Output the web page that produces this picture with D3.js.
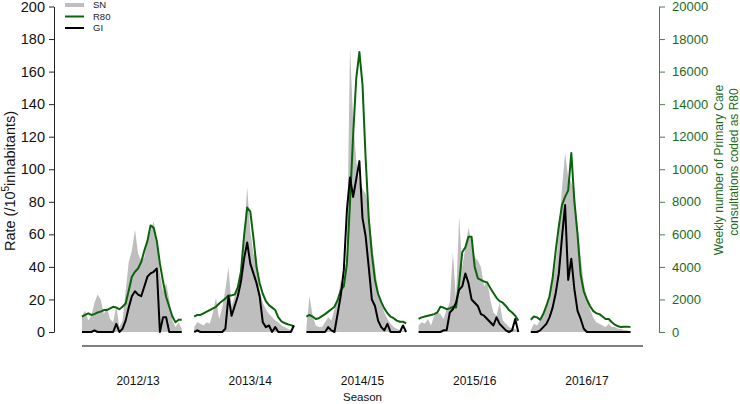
<!DOCTYPE html>
<html lang="en">
<head>
  <meta charset="UTF-8">
  <title>SN, R80 and GI by season</title>
  <script src="https://d3js.org/d3.v7.min.js"></script>
  <style>
    body { margin: 0; background: #fff; }
    text { font-family: "Liberation Sans", Arial, sans-serif; }
  </style>
</head>
<body>

<div id="chart"></div>

<script>
  // seasons (33 weeks each)
  const seasons = ["2012/13", "2013/14", "2014/15", "2015/16", "2016/17"];

  // SN rate per 10^5 inhabitants
  const snRate = [
    [10,13,7,10,18,23,20,11,15,8,6,16,3,7,25,43,50,63,48,44,46,56,62,68,56,36,25,30,20,7,3,6,2],
    [3,6,5,4,6,5,12,21,8,15,26,40,16,22,28,38,60,89,62,48,46,26,18,14,11,9,7,6,4,3,2,1,0],
    [3,22,10,4,3,3,6,9,7,14,18,32,26,48,175,130,105,92,88,85,75,55,40,25,18,12,8,5,3,2,1,1,0],
    [4,6,5,8,4,10,12,11,8,14,18,49,20,71,40,52,64,55,46,44,40,28,32,20,12,10,18,7,5,3,2,2,0],
    [1,5,4,7,10,15,22,30,42,60,88,110,95,92,86,65,46,30,20,14,9,6,5,4,3,5,3,3,2,2,1,1,0]
  ];

  // weekly Primary Care consultations coded R80
  const r80Count = [
    [950,1050,1150,1050,1100,1200,1250,1350,1350,1450,1550,1500,1400,1550,1750,2550,3400,3700,3900,4300,5000,5600,6550,6400,5600,4200,3100,2150,1550,950,600,750,750],
    [950,1050,1050,1150,1250,1350,1450,1550,1750,1900,2050,2250,2250,2300,2750,3700,5900,7650,7400,5800,4000,3000,2350,1900,1650,1500,1350,900,650,550,480,420,350],
    [950,1050,950,800,850,980,1100,1250,1400,1550,1950,2550,2800,4200,8000,12100,15600,17200,15200,10700,7000,4800,3200,2350,1850,1450,1150,950,850,700,630,630,530],
    [800,900,950,1000,1050,1100,1200,1550,1500,1400,1450,1550,1500,3000,4900,5200,5850,5850,4000,3300,3200,3100,3050,2700,2400,2100,1900,1800,1600,1350,1200,1000,700],
    [750,950,900,750,1100,1600,2200,3300,5000,6500,7800,8300,8700,11000,8000,6000,3500,2500,2000,1600,1300,1150,1100,950,800,800,600,450,350,300,320,330,300]
  ];

  // GI rate per 10^5 inhabitants
  const giRate = [
    [0,0,0,0,1,0,0,0,0,0,0,5,0,2,7,15,22,25,23,22,28,34,36,37,39,0,9,9,0,0,0,0,0],
    [0,1,0,0,0,0,0,0,0,0,2,22,10,16,22,31,45,55,42,36,30,22,6,3,4,0,3,0,0,0,0,0,4],
    [0,0,0,0,0,0,0,3,1,0,11,22,38,75,95,83,94,105,70,59,40,20,16,7,3,1,5,0,0,0,0,4,0],
    [0,0,0,0,0,0,0,0,1,1,12,14,18,26,28,36,30,20,18,16,11,10,8,6,4,9,5,3,1,0,1,8,0],
    [0,0,0,1,3,5,9,15,24,36,58,78,32,45,26,13,8,2,0,0,0,0,0,0,0,0,0,0,0,0,0,0,0]
  ];

  const rateTicks = d3.range(0, 201, 20);
  const r80Ticks = d3.range(0, 20001, 2000);

  const width = 740, height = 404;
  const slot = 36;          // weeks reserved per season (33 + gap)
  const green = "#1b6b1b";

  const svg = d3.select("#chart").append("svg")
    .attr("width", width)
    .attr("height", height);

  // scales
  const x = d3.scaleLinear().domain([0, slot * seasons.length]).range([82, 643]);
  const yRate = d3.scaleLinear().domain([0, 200]).range([332, 6.5]);
  const yR80 = d3.scaleLinear().domain([0, 20000]).range([332, 6.5]);

  const area = d3.area()
    .x(d => x(d.t))
    .y0(yRate(0))
    .y1(d => yRate(d.v));
  const lineRate = d3.line().x(d => x(d.t)).y(d => yRate(d.v));
  const lineR80 = d3.line().x(d => x(d.t)).y(d => yR80(d.v));

  const pts = (arr, s) => arr.map((v, i) => ({ t: s * slot + i, v: v }));

  // grey SN areas
  svg.append("g").selectAll("path")
    .data(snRate)
    .join("path")
    .attr("d", (d, s) => area(pts(d, s)))
    .attr("fill", "#bebebe");

  // R80 green lines
  svg.append("g").selectAll("path")
    .data(r80Count)
    .join("path")
    .attr("d", (d, s) => lineR80(pts(d, s)))
    .attr("fill", "none")
    .attr("stroke", "#0b640b")
    .attr("stroke-width", 2)
    .attr("stroke-linejoin", "round");

  // GI black lines
  svg.append("g").selectAll("path")
    .data(giRate)
    .join("path")
    .attr("d", (d, s) => lineRate(pts(d, s)))
    .attr("fill", "none")
    .attr("stroke", "#000")
    .attr("stroke-width", 2)
    .attr("stroke-linejoin", "round");

  // left axis
  const leftAxis = svg.append("g")
    .attr("transform", "translate(54,0)")
    .call(d3.axisLeft(yRate).tickValues(rateTicks).tickSize(5).tickPadding(4).tickSizeOuter(0));
  leftAxis.select(".domain").attr("stroke", "#222");
  leftAxis.selectAll(".tick line").attr("stroke", "#222");
  leftAxis.selectAll(".tick text")
    .attr("font-size", 14.5)
    .attr("fill", "#111")
    .attr("font-family", "Liberation Sans, Arial, sans-serif");

  // right axis
  const rightAxis = svg.append("g")
    .attr("transform", "translate(659,0)")
    .call(d3.axisRight(yR80).tickValues(r80Ticks).tickFormat(d3.format("d"))
      .tickSize(6).tickPadding(7).tickSizeOuter(0));
  rightAxis.select(".domain").attr("stroke", "#4d7f4d");
  rightAxis.selectAll(".tick line").attr("stroke", "#4d7f4d");
  rightAxis.selectAll(".tick text")
    .attr("font-size", 13)
    .attr("fill", green)
    .attr("font-family", "Liberation Sans, Arial, sans-serif");

  // bottom axis line and season labels
  svg.append("line")
    .attr("x1", x(0)).attr("x2", x(slot * seasons.length))
    .attr("y1", 346).attr("y2", 346)
    .attr("stroke", "#000").attr("stroke-width", 1.2);

  svg.append("g").selectAll("text")
    .data(seasons)
    .join("text")
    .attr("x", (d, i) => x(i * slot + slot / 2))
    .attr("y", 385)
    .attr("text-anchor", "middle")
    .attr("font-size", 12)
    .attr("fill", "#111")
    .text(d => d);

  svg.append("text")
    .attr("x", x(slot * seasons.length / 2))
    .attr("y", 401)
    .attr("text-anchor", "middle")
    .attr("font-size", 11.5)
    .attr("fill", "#111")
    .text("Season");

  // axis titles
  const lt = svg.append("text")
    .attr("transform", "translate(15,181) rotate(-90)")
    .attr("text-anchor", "middle")
    .attr("font-size", 14.5)
    .attr("fill", "#111");
  lt.append("tspan").text("Rate (/10");
  lt.append("tspan").attr("font-size", 10).attr("dy", -6).text("5");
  lt.append("tspan").attr("dy", 6).text("inhabitants)");

  svg.append("text")
    .attr("transform", "translate(723,170) rotate(-90)")
    .attr("text-anchor", "middle")
    .attr("font-size", 12)
    .attr("fill", green)
    .text("Weekly number of Primary Care");
  svg.append("text")
    .attr("transform", "translate(737.5,162) rotate(-90)")
    .attr("text-anchor", "middle")
    .attr("font-size", 12)
    .attr("fill", green)
    .text("consultations coded as R80");

  // legend
  const legend = [
    { name: "SN", color: "#bebebe", w: 4 },
    { name: "R80", color: "#0b640b", w: 2 },
    { name: "GI", color: "#000", w: 2 }
  ];
  const lg = svg.append("g").selectAll("g")
    .data(legend)
    .join("g")
    .attr("transform", (d, i) => `translate(0,${5 + i * 11.5})`);
  lg.append("line")
    .attr("x1", 65).attr("x2", 84)
    .attr("stroke", d => d.color)
    .attr("stroke-width", d => d.w);
  lg.append("text")
    .attr("x", 93)
    .attr("dy", "0.35em")
    .attr("font-size", 9.5)
    .attr("fill", "#222")
    .text(d => d.name);
</script>

</body>
</html>
